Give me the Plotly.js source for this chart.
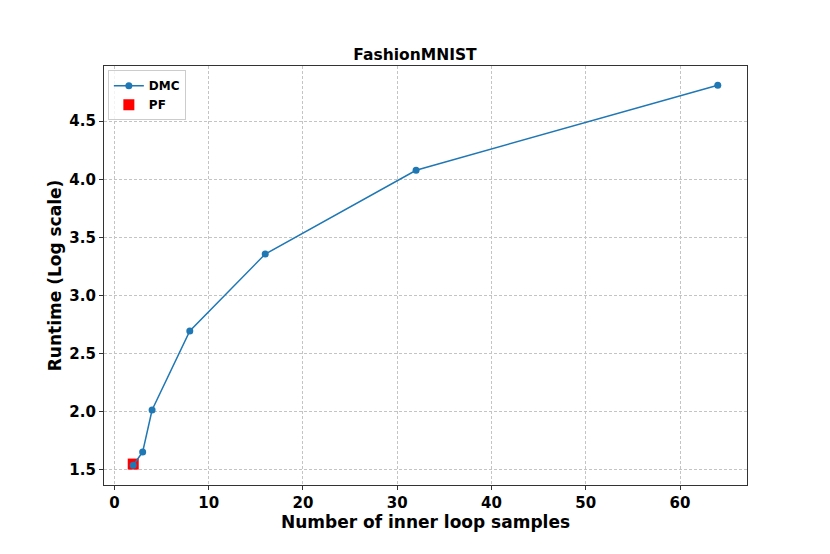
<!DOCTYPE html>
<html>
<head>
<meta charset="utf-8">
<script src="https://cdn.plot.ly/plotly-3.0.1.min.js"></script>
<style>
  body { margin: 0; background: white; }
  #chart { width: 830px; height: 554px; }
</style>
</head>
<body>
<div id="chart"></div>
<script>
// Datos
const muestras = [2, 3, 4, 8, 16, 32, 64];
const tiempoDMC = [1.54, 1.655, 2.015, 2.695, 3.357, 4.078, 4.81];
const muestrasPF = [2];
const tiempoPF = [1.55];

const fuente = 'DejaVu Sans, sans-serif';

const trazaDMC = {
    x: muestras,
    y: tiempoDMC,
    type: 'scatter',
    mode: 'lines+markers',
    name: '<b>DMC</b>',
    legendrank: 1,
    line: { color: '#1f77b4', width: 1.5 },
    marker: { color: '#1f77b4', size: 7 }
};

// PF se dibuja primero para que DMC quede encima
const trazaPF = {
    x: muestrasPF,
    y: tiempoPF,
    type: 'scatter',
    mode: 'markers',
    name: '<b>PF</b>',
    legendrank: 2,
    marker: { color: 'red', size: 11, symbol: 'square' }
};

const ejeComun = {
    showline: true,
    linecolor: '#333333',
    linewidth: 1.2,
    mirror: true,
    ticks: 'outside',
    ticklen: 4,
    tickcolor: '#333333',
    showgrid: true,
    gridcolor: '#c4c4c4',
    griddash: '3px,2px',
    gridwidth: 0.8,
    zeroline: false,
    tickfont: { family: fuente, size: 15, color: 'black', weight: 'bold' }
};

const layout = {
    width: 830,
    height: 554,
    paper_bgcolor: 'white',
    plot_bgcolor: 'white',
    margin: { l: 104, r: 83, t: 66, b: 69 },
    title: {
        text: '<b>FashionMNIST</b>',
        font: { family: fuente, size: 15.5, color: 'black' },
        x: 0.5,
        xanchor: 'center',
        y: 1 - 55 / 554,
        yanchor: 'middle'
    },
    xaxis: Object.assign({}, ejeComun, {
        range: [-1.1, 67.1],
        tickvals: [0, 10, 20, 30, 40, 50, 60],
        title: {
            text: '<b>Number of inner loop samples</b>',
            font: { family: fuente, size: 17, color: 'black' },
            standoff: 2
        }
    }),
    yaxis: Object.assign({}, ejeComun, {
        range: [1.37, 4.975],
        tickvals: [1.5, 2.0, 2.5, 3.0, 3.5, 4.0, 4.5],
        tickformat: '.1f',
        title: {
            text: '<b>Runtime (Log scale)</b>',
            font: { family: fuente, size: 17, color: 'black' },
            standoff: 3
        }
    }),
    legend: {
        x: 0.006,
        y: 0.99,
        xanchor: 'left',
        yanchor: 'top',
        bgcolor: 'rgba(255,255,255,0.8)',
        bordercolor: '#cccccc',
        borderwidth: 1,
        itemwidth: 30,
        font: { family: fuente, size: 12, color: 'black' },
        tracegroupgap: 0
    },
    showlegend: true
};

Plotly.newPlot('chart', [trazaPF, trazaDMC], layout, { displayModeBar: false });
</script>
</body>
</html>
